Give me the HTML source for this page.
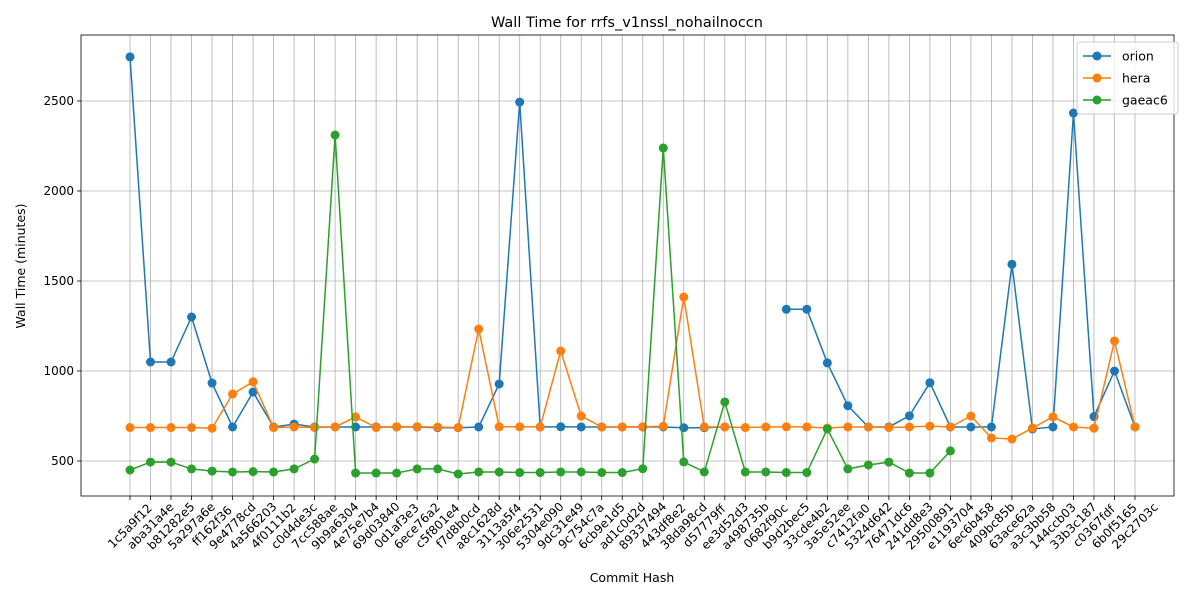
<!DOCTYPE html>
<html><head><meta charset="utf-8"><style>
body{margin:0;background:#fff;font-family:"Liberation Sans","DejaVu Sans",sans-serif}
svg text{font-family:"DejaVu Sans","Liberation Sans",sans-serif}
</style></head><body>
<svg id="c" width="1200" height="600"></svg>
<script>
const categories=["1c5a9f12","aba31a4e","b81282e5","5a297a6e","ff162f36","9e4778cd","4a566203","4f0111b2","c0d4de3c","7cc588ae","9b9a6304","4e75e7b4","69d03840","0d1af3e3","6ece76a2","c5f801e4","f7d8b0cd","a8c1628d","3113a5f4","306e2531","5304e090","9dc31e49","9c754c7a","6cb9e1d5","ad1c0d2d","89337494","443df8e2","38da98cd","d57779ff","ee3d52d3","a498735b","0682f90c","b9d2bec5","33cde4b2","3a5e52ee","c7412fa0","5324d642","76471dc6","241dd8e3","29500891","e1193704","6ec6b458","409bc85b","63ace62a","a3c3bb58","144ccb03","33b3c187","c0367fdf","6b0f5165","29c2703c"];
const orion=[2745,1050,1050,1300,933,689,883,689,705,689,689,689,689,689,689,685,685,689,928,2494,689,690,689,689,689,689,689,685,685,689,null,null,1343,1343,1045,807,689,689,751,935,689,689,689,1593,678,689,2433,747,1000,689];
const hera=[686,686,686,686,682,872,940,686,689,686,689,745,686,690,690,688,686,1233,690,690,689,1111,750,689,689,690,693,1411,689,689,686,689,690,689,683,689,689,686,689,694,689,750,628,622,683,745,689,682,1167,689];
const gaeac6=[450,494,494,456,444,439,441,439,456,511,2311,433,433,433,456,456,428,439,439,436,436,439,439,436,436,457,2239,495,439,828,439,439,436,436,678,456,478,494,433,433,556,null,null,null,null,null,null,null,null,null];
const yTicks=[500,1000,1500,2000,2500];
const seriesNames=["orion","hera","gaeac6"];
const colors=["#1f77b4","#ff7f0e","#2ca02c"];
const L=81,R=1174,T=35,B=496;
const xs=i=>130+i*(1135-130)/(categories.length-1);
const ys=v=>461-(v-500)*0.18;
const svg=document.getElementById('c');const NS="http://www.w3.org/2000/svg";
function mk(t,a,p){const e=document.createElementNS(NS,t);for(const k in a)e.setAttribute(k,a[k]);(p||svg).appendChild(e);return e;}
let g=mk('g',{});


categories.forEach((c,i)=>{const x=xs(i);mk('line',{x1:x,x2:x,y1:T,y2:B,stroke:'#b0b0b0','stroke-width':0.8},g);
mk('line',{x1:x,x2:x,y1:B,y2:B+4,stroke:'#000','stroke-width':0.8});
const cy=B+30;
const t=mk('text',{x:x,y:cy,'font-size':12,'text-anchor':'middle','dominant-baseline':'central',transform:`rotate(-45 ${x} ${cy})`});t.textContent=c;

});
yTicks.forEach(v=>{const y=ys(v);mk('line',{x1:L,x2:R,y1:y,y2:y,stroke:'#b0b0b0','stroke-width':0.8},g);
mk('line',{x1:L-4,x2:L,y1:y,y2:y,stroke:'#000','stroke-width':0.8});
const t=mk('text',{x:L-7,y:y+4,'font-size':12,'text-anchor':'end'});t.textContent=v;

});
[orion,hera,gaeac6].forEach((s,k)=>{const sg=mk('g',{});


let d='',pen=false;s.forEach((v,i)=>{if(v==null){pen=false;return;}d+=(pen?'L':'M')+xs(i)+' '+ys(v)+' ';pen=true;});
mk('path',{d:d,fill:'none',stroke:colors[k],'stroke-width':1.5},sg);
s.forEach((v,i)=>{if(v==null)return;const c=mk('circle',{cx:xs(i),cy:ys(v),r:4.5,fill:colors[k]},sg);

});});
mk('rect',{x:L,y:T,width:R-L,height:B-T,fill:'none',stroke:'#000','stroke-width':0.8});
let t=mk('text',{x:627,y:27,'font-size':14.5,'text-anchor':'middle'});t.textContent='Wall Time for rrfs_v1nssl_nohailnoccn';


t=mk('text',{x:632,y:582,'font-size':12.5,'text-anchor':'middle'});t.textContent='Commit Hash';


t=mk('text',{x:25,y:266,'font-size':12.5,'text-anchor':'middle',transform:'rotate(-90 25 266)'});t.textContent='Wall Time (minutes)';


const lg=mk('g',{});


mk('rect',{x:1077,y:42,width:101,height:72,rx:3,fill:'#fff','fill-opacity':0.8,stroke:'#ccc'},lg);
seriesNames.forEach((n,k)=>{const y=56+k*22;mk('line',{x1:1083,x2:1111,y1:y,y2:y,stroke:colors[k],'stroke-width':1.5},lg);
mk('circle',{cx:1097,cy:y,r:4.5,fill:colors[k]},lg);const tt=mk('text',{x:1122,y:y+4.5,'font-size':12.5},lg);tt.textContent=n;

});
</script>
</body></html>
